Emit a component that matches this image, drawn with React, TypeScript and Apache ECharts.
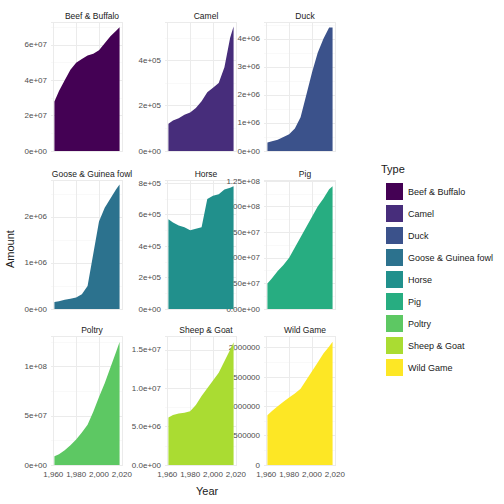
import { useEffect, useRef } from 'react';
import * as echarts from 'echarts';

const YEARS = [1961, 1965, 1970, 1975, 1980, 1985, 1990, 1995, 2000, 2005, 2010, 2015, 2018];

const TYPES = ['Beef & Buffalo', 'Camel', 'Duck', 'Goose & Guinea fowl', 'Horse', 'Pig', 'Poltry', 'Sheep & Goat', 'Wild Game'];
const COLORS = ['#440154', '#472D7B', '#3B528B', '#2C728E', '#21908C', '#27AD81', '#5DC863', '#AADC32', '#FDE725'];

const beef = [2.8e7, 3.4e7, 4.0e7, 4.6e7, 5.0e7, 5.2e7, 5.4e7, 5.5e7, 5.7e7, 6.1e7, 6.5e7, 6.8e7, 7.0e7];
const camel = [1.2e5, 1.35e5, 1.45e5, 1.6e5, 1.7e5, 1.9e5, 2.2e5, 2.6e5, 2.8e5, 3.0e5, 3.7e5, 5.0e5, 5.5e5];
const duck = [3e5, 3.5e5, 4e5, 5e5, 6e5, 8e5, 1.2e6, 2.0e6, 2.8e6, 3.5e6, 4.0e6, 4.4e6, 4.4e6];
const goose = [1.5e5, 1.7e5, 2e5, 2.2e5, 2.5e5, 3.2e5, 5e5, 1.2e6, 1.9e6, 2.2e6, 2.4e6, 2.6e6, 2.7e6];
const horse = [5.7e5, 5.5e5, 5.3e5, 5.2e5, 5.0e5, 5.1e5, 5.2e5, 7.0e5, 7.2e5, 7.3e5, 7.6e5, 7.7e5, 7.8e5];
const pig = [2.5e7, 3.0e7, 3.7e7, 4.3e7, 5.0e7, 6.0e7, 7.0e7, 8.0e7, 9.0e7, 1.0e8, 1.08e8, 1.17e8, 1.2e8];
const poltry = [9e6, 1.1e7, 1.5e7, 2.0e7, 2.6e7, 3.3e7, 4.1e7, 5.4e7, 6.9e7, 8.3e7, 9.9e7, 1.15e8, 1.25e8];
const sheep = [6.2e6, 6.5e6, 6.7e6, 6.8e6, 7.0e6, 7.8e6, 9.0e6, 1.0e7, 1.1e7, 1.2e7, 1.35e7, 1.5e7, 1.6e7];
const wild = [8.5e5, 9.2e5, 1.0e6, 1.08e6, 1.15e6, 1.22e6, 1.3e6, 1.45e6, 1.6e6, 1.75e6, 1.9e6, 2.02e6, 2.1e6];
const VALUES = [beef, camel, duck, goose, horse, pig, poltry, sheep, wild];

// y axis: max, interval, exponent digits (-1 = plain)
const Y_MAX = [7.3e7, 5.7e5, 4.6e6, 2.8e6, 8.2e5, 1.26e8, 1.31e8, 1.68e7, 2.2e6];
const Y_STEP = [2e7, 2e5, 1e6, 1e6, 2e5, 2.5e7, 5e7, 5e6, 5e5];
const Y_DIGITS = [0, 0, 0, 0, 0, 2, 0, 1, -1];
const X_TICKS = [1960, 1980, 2000, 2020];

const COL_LEFT = [51, 165, 264];
const ROW_TOP = [22, 180, 336];
const PW = 72;
const PH = 129;

function sci(v: number, d: number) {
  if (d < 0) return String(v);
  const s = v.toExponential(d);
  const [m, e] = s.split('e');
  const sign = e[0] === '-' ? '-' : '+';
  const num = e.replace(/[+-]/, '').padStart(2, '0');
  return `${m}e${sign}${num}`;
}

export default function App() {
  const ref = useRef<HTMLDivElement>(null);

  useEffect(() => {
    document.body.style.margin = '0';
    if (!ref.current) return;
    const chart = echarts.init(ref.current, null, { renderer: 'svg' });
    const grids: any[] = [];
    const xAxes: any[] = [];
    const yAxes: any[] = [];
    const series: any[] = [];
    const titles: any[] = [];
    TYPES.forEach((t, i) => {
      const r = Math.floor(i / 3);
      const c = i % 3;
      grids.push({ left: COL_LEFT[c], top: ROW_TOP[r], width: PW, height: PH });
      titles.push({
        text: t,
        left: COL_LEFT[c] + PW / 2,
        top: ROW_TOP[r] - 16,
        textAlign: 'center',
        textStyle: { fontSize: 8.5, fontWeight: 'normal', color: '#1a1a1a', fontFamily: 'Liberation Sans' },
      });
      xAxes.push({
        gridIndex: i,
        type: 'value',
        min: 1958,
        max: 2021,
        axisLine: { show: false },
        axisTick: { show: false, customValues: X_TICKS },
        axisLabel: {
          show: r === 2,
          customValues: X_TICKS,
          hideOverlap: false,
          color: '#4d4d4d',
          fontSize: 8,
          fontFamily: 'Liberation Sans',
          margin: 5,
        },
        splitLine: { show: true, lineStyle: { color: '#ebebeb', width: 1 } },
      });
      yAxes.push({
        gridIndex: i,
        type: 'value',
        min: 0,
        max: Y_MAX[i],
        interval: Y_STEP[i],
        axisLine: { show: false },
        axisTick: { show: false },
        axisLabel: {
          color: '#4d4d4d',
          fontSize: 8,
          fontFamily: 'Liberation Sans',
          margin: 4,
          showMaxLabel: false,
          formatter: (v: number) => sci(v, Y_DIGITS[i]),
        },
        splitLine: { lineStyle: { color: '#ebebeb', width: 1 } },
        minorTick: { show: false, splitNumber: 2 },
        minorSplitLine: { show: true, lineStyle: { color: '#f5f5f5', width: 0.6 } },
      });
      series.push({
        name: t,
        type: 'line',
        xAxisIndex: i,
        yAxisIndex: i,
        data: YEARS.map((y, k) => [y, VALUES[i][k]]),
        showSymbol: false,
        lineStyle: { width: 0 },
        itemStyle: { color: COLORS[i] },
        areaStyle: { color: COLORS[i], opacity: 1 },
      });
    });

    chart.setOption({
      animation: false,
      title: titles,
      grid: grids,
      xAxis: xAxes,
      yAxis: yAxes,
      series,
      legend: {
        orient: 'vertical',
        left: 381,
        top: 178,
        icon: 'rect',
        itemWidth: 17,
        itemHeight: 17,
        itemGap: 5,
        data: TYPES,
        textStyle: { fontSize: 9, color: '#1a1a1a', fontFamily: 'Liberation Sans' },
      },
      graphic: [
        { type: 'text', left: 381, top: 163, style: { text: 'Type', fontSize: 11, fill: '#1a1a1a', fontFamily: 'Liberation Sans' } },
        { type: 'text', left: 196, top: 485, style: { text: 'Year', fontSize: 11, fill: '#1a1a1a', fontFamily: 'Liberation Sans' } },
        {
          type: 'text',
          x: 4,
          y: 268,
          rotation: Math.PI / 2,
          style: { text: 'Amount', fontSize: 11, fill: '#1a1a1a', fontFamily: 'Liberation Sans' },
        },
      ],
    });
    return () => chart.dispose();
  }, []);

  return <div ref={ref} style={{ width: 504, height: 504 }} />;
}
